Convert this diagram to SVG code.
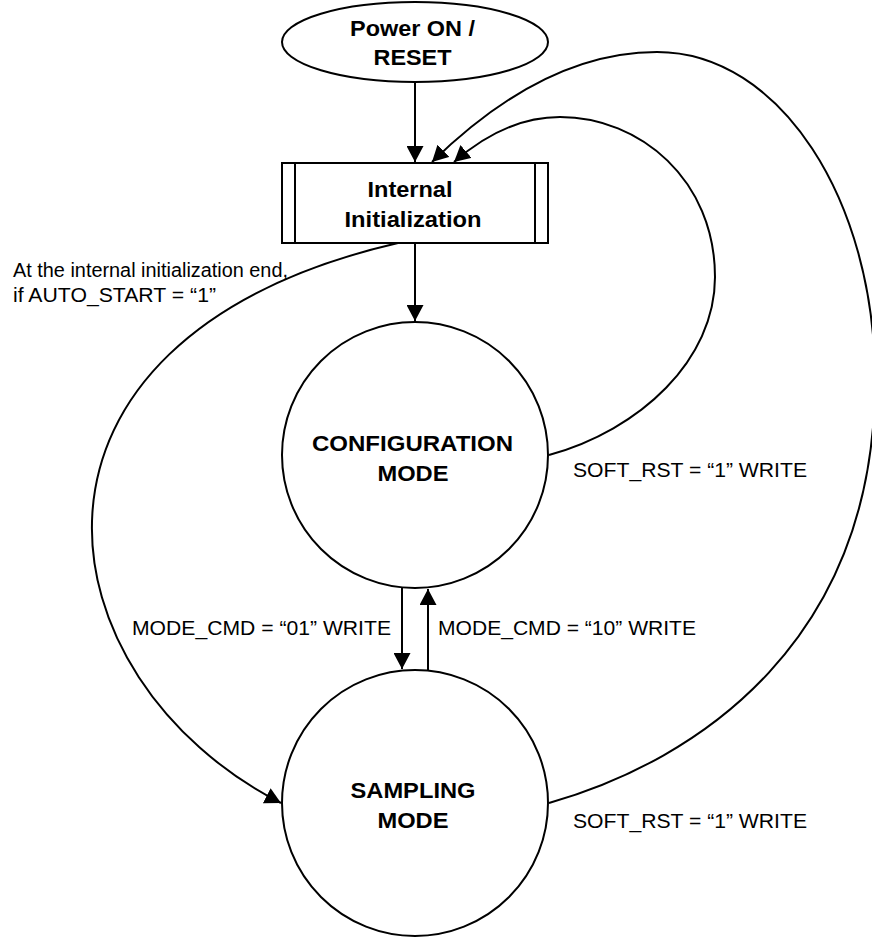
<svg xmlns="http://www.w3.org/2000/svg" width="872" height="937" viewBox="0 0 872 937">
<style>
.shape{fill:#fff;stroke:#000;stroke-width:2}
.edge{fill:none;stroke:#000;stroke-width:2}
.b{font-family:"Liberation Sans",Arial,sans-serif;font-weight:bold;font-size:22px;fill:#000}
.r{font-family:"Liberation Sans",Arial,sans-serif;font-size:20px;fill:#000}
</style>
<defs>
<marker id="arr" markerUnits="userSpaceOnUse" markerWidth="17" markerHeight="17" viewBox="0 0 17 17" refX="16" refY="8.5" orient="auto">
<path d="M0,0 L16,8.5 L0,17 z" fill="#000"/>
</marker>
</defs>
<rect width="872" height="937" fill="#fff"/>
<g id="connectors">
<path class="edge" d="M415,82 L415,162" marker-end="url(#arr)"/>
<path class="edge" d="M415,243 L415,321" marker-end="url(#arr)"/>
<path class="edge" d="M402,588 L402,669" marker-end="url(#arr)"/>
<path class="edge" d="M428,671 L428,589" marker-end="url(#arr)"/>
<path class="edge" d="M398,243 C-20,340 40,680 281,803" marker-end="url(#arr)"/>
<path class="edge" d="M549,455 C640,430 715,360 715,277 C715,180 640,117 560,117 C520,117 485,135 454,162" marker-end="url(#arr)"/>
<path class="edge" d="M549,803 C700,760 875,640 875,380 C875,200 780,52 657,52 C560,52 480,115 432,162" marker-end="url(#arr)"/>
</g>
<g id="power">
<ellipse class="shape" cx="415" cy="42" rx="133" ry="40"/>
<text class="b" x="412.5" y="36" text-anchor="middle" textLength="125" lengthAdjust="spacingAndGlyphs">Power ON /</text>
<text class="b" x="412.5" y="65" text-anchor="middle" textLength="78" lengthAdjust="spacingAndGlyphs">RESET</text>
</g>
<g id="init">
<rect class="shape" x="282" y="163" width="266" height="80"/>
<line class="edge" x1="295" y1="163" x2="295" y2="243"/>
<line class="edge" x1="535" y1="163" x2="535" y2="243"/>
<text class="b" x="410" y="197" text-anchor="middle" textLength="85" lengthAdjust="spacingAndGlyphs">Internal</text>
<text class="b" x="413" y="227" text-anchor="middle" textLength="137" lengthAdjust="spacingAndGlyphs">Initialization</text>
</g>
<g id="config">
<circle class="shape" cx="415" cy="455" r="133"/>
<text class="b" x="412.5" y="451" text-anchor="middle" textLength="201" lengthAdjust="spacingAndGlyphs">CONFIGURATION</text>
<text class="b" x="413" y="481" text-anchor="middle" textLength="71" lengthAdjust="spacingAndGlyphs">MODE</text>
</g>
<g id="sampling">
<circle class="shape" cx="415" cy="803" r="133"/>
<text class="b" x="413" y="798" text-anchor="middle" textLength="125" lengthAdjust="spacingAndGlyphs">SAMPLING</text>
<text class="b" x="413" y="828" text-anchor="middle" textLength="71" lengthAdjust="spacingAndGlyphs">MODE</text>
</g>
<g id="labels">
<text class="r" x="13" y="277" textLength="275" lengthAdjust="spacingAndGlyphs">At the internal initialization end,</text>
<text class="r" x="13" y="302" textLength="203" lengthAdjust="spacingAndGlyphs">if AUTO_START = “1”</text>
<text class="r" x="132" y="635" textLength="259" lengthAdjust="spacingAndGlyphs">MODE_CMD = “01” WRITE</text>
<text class="r" x="438" y="635" textLength="258" lengthAdjust="spacingAndGlyphs">MODE_CMD = “10” WRITE</text>
<text class="r" x="573" y="477" textLength="234" lengthAdjust="spacingAndGlyphs">SOFT_RST = “1” WRITE</text>
<text class="r" x="573" y="828" textLength="234" lengthAdjust="spacingAndGlyphs">SOFT_RST = “1” WRITE</text>
</g>
</svg>
